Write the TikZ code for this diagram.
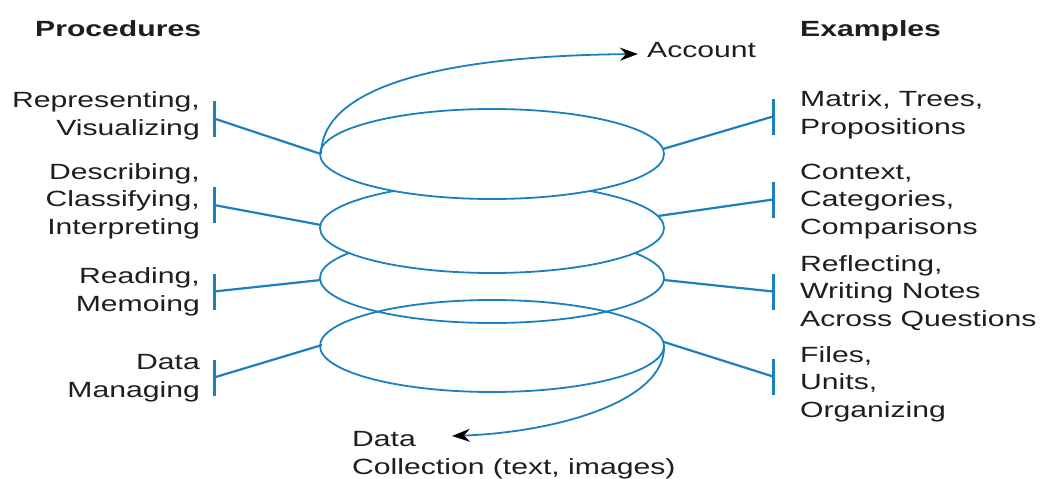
\documentclass[tikz,border=0pt]{standalone}
\usepackage{fontspec}
\setmainfont{Liberation Sans}[FakeStretch=1.37]
\usetikzlibrary{arrows.meta}
\definecolor{spiralblue}{RGB}{28,128,188}
\definecolor{labgray}{RGB}{30,30,30}
\newcommand{\labfont}{\fontsize{22}{27.5}\selectfont}

\begin{document}
\begin{tikzpicture}[x=1pt,y=-1pt,
  lab/.style={inner sep=0pt, text=labgray, font=\labfont},
  head/.style={inner sep=0pt, text=labgray, font=\labfont\bfseries},
  loop/.style={spiralblue, line width=1.8pt},
  link/.style={spiralblue, line width=2.2pt},
  tick/.style={spiralblue, line width=3pt},
  tip/.style={-{Stealth[black,length=18pt,width=13pt,inset=6pt]}}]
  \useasboundingbox (0,0) rectangle (1041,479);

  % the spiral, drawn bottom up so the upper discs hide the rings below
  \draw[loop, fill=white] (492,278) ellipse [x radius=172pt, y radius=45pt];
  \draw[loop, fill=white] (492,228) ellipse [x radius=172pt, y radius=45pt];
  \draw[loop, fill=white] (492,154) ellipse [x radius=172pt, y radius=45pt];
  \draw[loop] (492,346) ellipse [x radius=172pt, y radius=46pt];

  \coordinate (acctip) at (638,54);
  \coordinate (datatip) at (452,436);
  \coordinate (top) at (321,154);
  \coordinate (bottom) at (664,346);
  \draw[loop, tip] (top) .. controls (322,90) and (430,56) .. (acctip);
  \draw[loop, tip] (bottom) .. controls (666,400) and (560,432) .. (datatip);

  % headings (base = last line)
  \node[head, anchor=base west] (proc) at (35,36) {Procedures};
  \node[head, anchor=base west] (exam) at (800,36) {Examples};
  \node[lab, anchor=base west] (account) at (647,57) {Account};
  \node[lab, anchor=base west, align=left] (collect) at (352,474) {Data\\Collection (text, images)};

  % procedures
  \node[lab, anchor=base east, align=right] (rep) at (200,135) {Representing,\\Visualizing};
  \node[lab, anchor=base east, align=right] (desc) at (200,234) {Describing,\\Classifying,\\Interpreting};
  \node[lab, anchor=base east, align=right] (read) at (200,311) {Reading,\\Memoing};
  \node[lab, anchor=base east, align=right] (dman) at (200,397) {Data\\Managing};

  % examples
  \node[lab, anchor=base west, align=left] (matrix) at (800,134) {Matrix, Trees,\\Propositions};
  \node[lab, anchor=base west, align=left] (context) at (800,234) {Context,\\Categories,\\Comparisons};
  \node[lab, anchor=base west, align=left] (reflect) at (800,326) {Reflecting,\\Writing Notes\\Across Questions};
  \node[lab, anchor=base west, align=left] (files) at (800,417) {Files,\\Units,\\Organizing};

  \foreach \i/\by/\ex/\ey in {1/118.5/321/154, 2/205/321/225, 3/291.5/321/280, 4/377.5/322/345}{
    \coordinate (bl\i) at (214,\by);
    \coordinate (el\i) at (\ex,\ey);
    \draw[tick] ([yshift=-18pt]bl\i) -- ([yshift=18pt]bl\i);
    \draw[link] (bl\i) -- (el\i);
  }
  \foreach \i/\by/\ex/\ey in {1/116.5/663/149, 2/199.5/658/216, 3/291.5/664/280, 4/376.5/664/342}{
    \coordinate (br\i) at (773,\by);
    \coordinate (er\i) at (\ex,\ey);
    \draw[tick] ([yshift=-18pt]br\i) -- ([yshift=18pt]br\i);
    \draw[link] (br\i) -- (er\i);
  }
\end{tikzpicture}
\end{document}
